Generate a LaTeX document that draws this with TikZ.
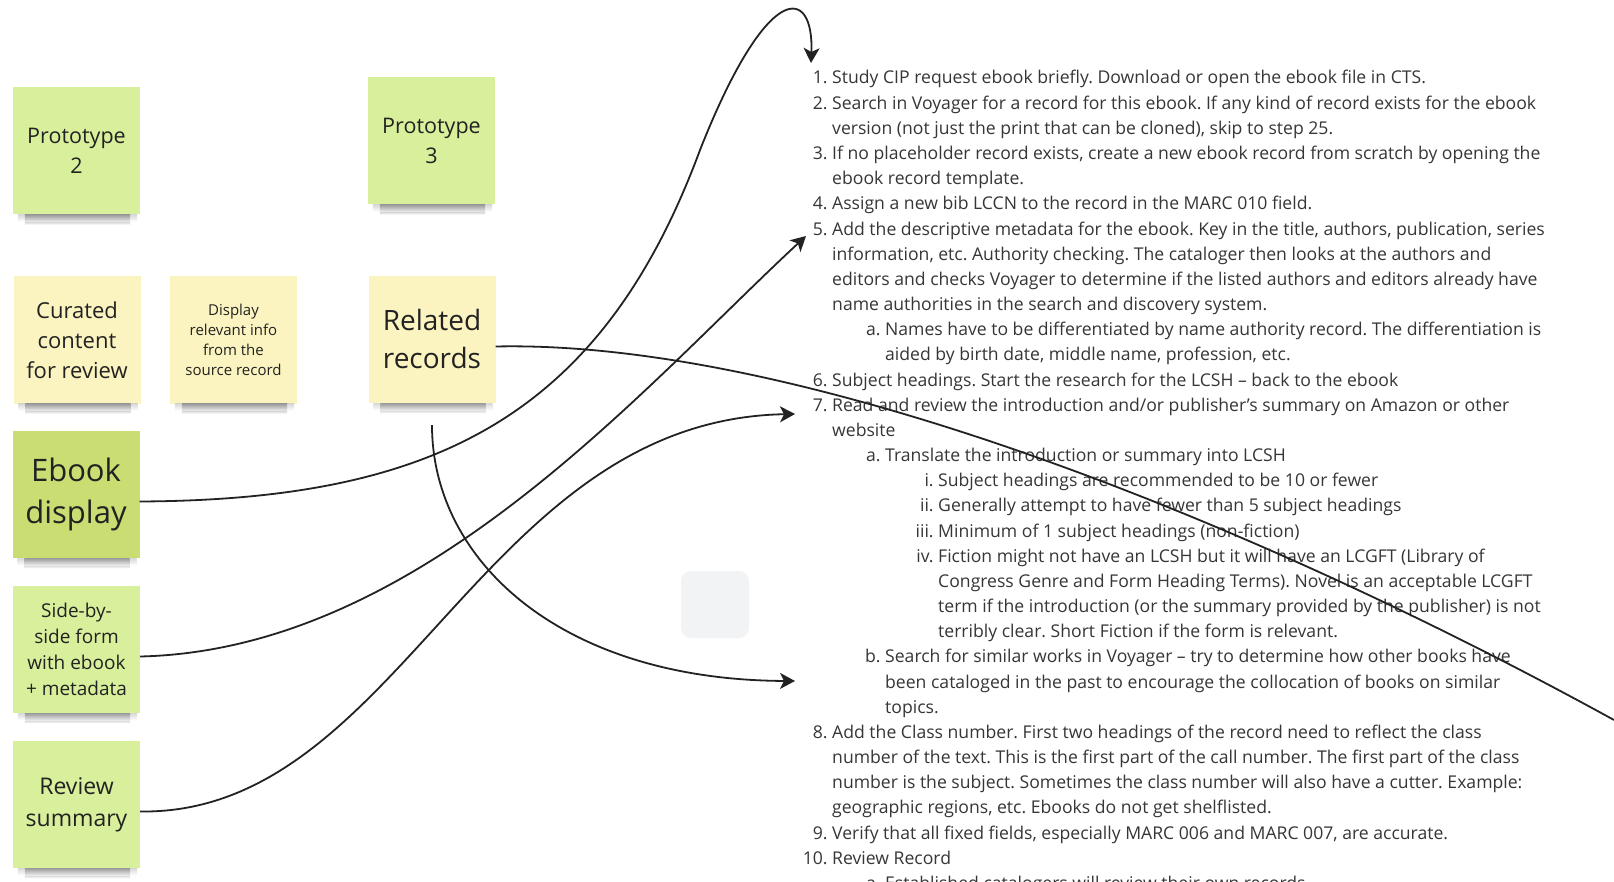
\documentclass[tikz,border=0pt]{standalone}
\usepackage{fontspec}
\setmainfont{Open Sans}
\usetikzlibrary{arrows.meta}
\definecolor{notegreen}{HTML}{D8F09C}
\definecolor{notedark}{HTML}{C9DD72}
\definecolor{noteyellow}{HTML}{FBF4C0}
\definecolor{inkgray}{HTML}{222222}
\definecolor{listgray}{HTML}{363636}
\definecolor{blankgray}{HTML}{F2F3F5}
\newcommand{\lvone}[2]{\hbox{\hskip52pt\llap{#1\ }#2}}
\newcommand{\lvtwo}[2]{\hbox{\hskip105pt\llap{#1\ }#2}}
\newcommand{\lvthree}[2]{\hbox{\hskip158pt\llap{#1\ }#2}}
\begin{document}
\frenchspacing
\begin{tikzpicture}[x=1pt,y=-1pt,
  note/.style={minimum width=127pt,minimum height=127pt,inner sep=2pt,align=center,text=inkgray},
  link/.style={line width=1.8pt,draw=inkgray},
  tip/.style={-{Stealth[length=15pt,width=16pt,inset=4pt]}}]
\useasboundingbox (0,0) rectangle (1614,882);
\fill[white] (0,0) rectangle (1614,882);
\node[note,fill=notegreen,font=\fontsize{21.5}{30}\selectfont] (p2) at (76.5,151) {Prototype\\2};
\node[note,fill=notegreen,font=\fontsize{21.5}{30}\selectfont] (p3) at (431.5,141) {Prototype\\3};
\node[note,fill=noteyellow,font=\fontsize{22}{30}\selectfont] (cur) at (77,340) {Curated\\content\\for review};
\node[note,fill=noteyellow,font=\fontsize{15}{20}\selectfont] (disp) at (233.5,340) {Display\\relevant info\\from the\\source record};
\node[note,fill=noteyellow,font=\fontsize{28}{38}\selectfont] (rel) at (432,339.5) {Related\\records};
\node[note,fill=notedark,font=\fontsize{31}{42}\selectfont] (ebook) at (76,494.5) {Ebook\\display};
\node[note,fill=notegreen,font=\fontsize{19}{26}\selectfont] (side) at (76.5,649.5) {Side-by-\\side form\\with ebook\\+ metadata};
\node[note,fill=notegreen,font=\fontsize{23}{32}\selectfont] (rev) at (76.5,804.5) {Review\\summary};
\foreach \n in {p2,p3,cur,disp,rel,ebook,side,rev}{
  \shade[top color=black!60,bottom color=white] ([xshift=12pt]\n.south west) rectangle ([xshift=-10pt,yshift=-10pt]\n.south east);
  \shade[top color=black!25,bottom color=white,opacity=.6] ([xshift=5pt]\n.south west) rectangle ([xshift=-3pt,yshift=-7pt]\n.south east);
}
\node[fill=blankgray,rounded corners=10pt,minimum width=68pt,minimum height=67pt] (blank) at (715,604.5) {};
\node[anchor=base west,inner sep=0pt,text=listgray,font=\fontsize{17.6}{25.17}\selectfont] (steps) at (780,84) {\vtop{%
\lvone{1.}{Study CIP request ebook briefly. Download or open the ebook file in CTS.}
\lvone{2.}{Search in Voyager for a record for this ebook. If any kind of record exists for the ebook}
\lvone{}{version (not just the print that can be cloned), skip to step 25.}
\lvone{3.}{If no placeholder record exists, create a new ebook record from scratch by opening the}
\lvone{}{ebook record template.}
\lvone{4.}{Assign a new bib LCCN to the record in the MARC 010 field.}
\lvone{5.}{Add the descriptive metadata for the ebook. Key in the title, authors, publication, series}
\lvone{}{information, etc. Authority checking. The cataloger then looks at the authors and}
\lvone{}{editors and checks Voyager to determine if the listed authors and editors already have}
\lvone{}{name authorities in the search and discovery system.}
\lvtwo{a.}{Names have to be differentiated by name authority record. The differentiation is}
\lvtwo{}{aided by birth date, middle name, profession, etc.}
\lvone{6.}{Subject headings. Start the research for the LCSH – back to the ebook}
\lvone{7.}{Read and review the introduction and/or publisher’s summary on Amazon or other}
\lvone{}{website}
\lvtwo{a.}{Translate the introduction or summary into LCSH}
\lvthree{i.}{Subject headings are recommended to be 10 or fewer}
\lvthree{ii.}{Generally attempt to have fewer than 5 subject headings}
\lvthree{iii.}{Minimum of 1 subject headings (non-fiction)}
\lvthree{iv.}{Fiction might not have an LCSH but it will have an LCGFT (Library of}
\lvthree{}{Congress Genre and Form Heading Terms). Novel is an acceptable LCGFT}
\lvthree{}{term if the introduction (or the summary provided by the publisher) is not}
\lvthree{}{terribly clear. Short Fiction if the form is relevant.}
\lvtwo{b.}{Search for similar works in Voyager – try to determine how other books have}
\lvtwo{}{been cataloged in the past to encourage the collocation of books on similar}
\lvtwo{}{topics.}
\lvone{8.}{Add the Class number. First two headings of the record need to reflect the class}
\lvone{}{number of the text. This is the first part of the call number. The first part of the class}
\lvone{}{number is the subject. Sometimes the class number will also have a cutter. Example:}
\lvone{}{geographic regions, etc. Ebooks do not get shelflisted.}
\lvone{9.}{Verify that all fixed fields, especially MARC 006 and MARC 007, are accurate.}
\lvone{10.}{Review Record}
\lvtwo{a.}{Established catalogers will review their own records.}}};
\coordinate (to1) at (811,63);
\coordinate (to5) at (806,236);
\coordinate (to7) at (795,414);
\coordinate (to7b) at (795,681);
\coordinate (off) at (1614,720);
\draw[link,tip] ([yshift=-7pt]ebook.east) .. controls (430,500) and (600,420) .. (700,150) .. controls (768,-22) and (814,-14) .. (to1);
\draw[link,tip] ([yshift=-7pt]side.east) .. controls (420,650) and (640,390) .. (to5);
\draw[link,tip] ([yshift=-7pt]rev.east) .. controls (400,815) and (480,420) .. (to7);
\draw[link,tip] ([yshift=-22pt]rel.south) .. controls (432,560) and (560,680) .. (to7b);
\draw[link] ([yshift=-7pt]rel.east) .. controls (800,340) and (1250,520) .. (off);
\end{tikzpicture}
\end{document}
